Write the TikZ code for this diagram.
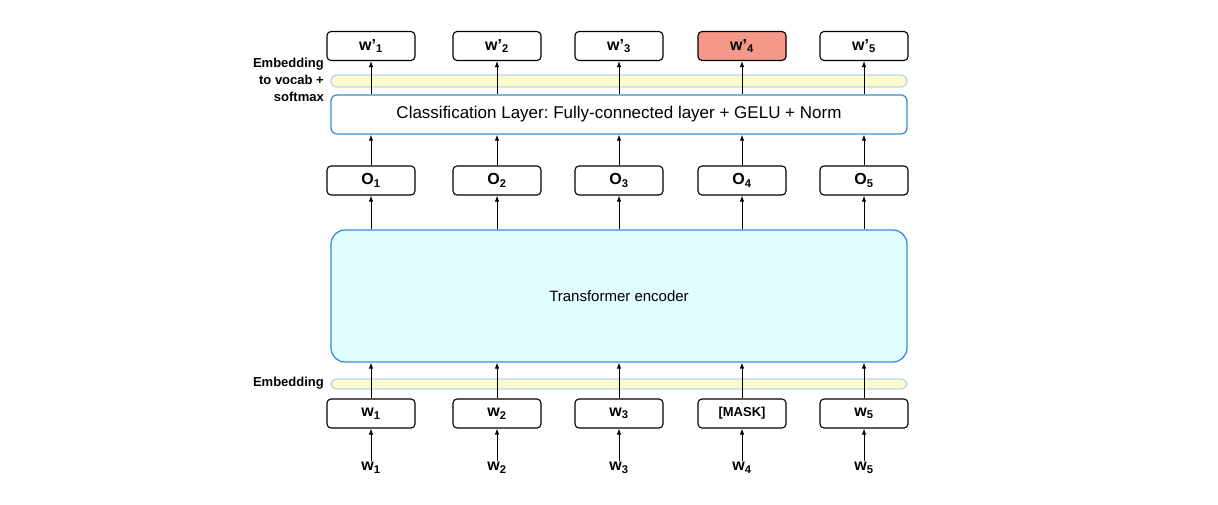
\documentclass[tikz,border=0pt]{standalone}
\usepackage{fontspec}
\setmainfont{Liberation Sans}
\usetikzlibrary{arrows.meta}
\frenchspacing
\definecolor{barfill}{HTML}{FBFBCB}
\definecolor{barline}{HTML}{B9D7EC}
\definecolor{encfill}{HTML}{E0FDFF}
\definecolor{encline}{HTML}{3C8ED3}
\definecolor{maskfill}{HTML}{F4998A}
\tikzset{
  tok/.style={draw=black, line width=1.1pt, rounded corners=4pt, minimum width=88pt, minimum height=29pt, inner sep=0pt, font=\fontsize{16}{18}\selectfont\bfseries},
  bar/.style={draw=barline, fill=barfill, line width=1.3pt, rounded corners=6pt, minimum width=576pt, inner sep=0pt},
  bluebox/.style={draw=encline, line width=1.3pt, minimum width=576pt, inner sep=0pt},
  inlab/.style={font=\fontsize{16}{18}\selectfont\bfseries, inner sep=1pt},
  sidelab/.style={font=\fontsize{13}{17}\selectfont\bfseries, align=right, anchor=east, inner sep=0pt},
  arr/.style={-{Latex[length=6pt,width=4.5pt]}, line width=0.9pt}
}
\newcommand{\wsub}[1]{w\textsubscript{#1}}
\begin{document}
\begin{tikzpicture}[x=1pt,y=-1pt]
\useasboundingbox (0,0) rectangle (1218,504);
% bars and big boxes
\node[bar, minimum height=12pt] (topbar) at (619,81) {};
\node[bar, minimum height=10pt] (botbar) at (619,384) {};
\node[bluebox, fill=white, rounded corners=6pt, minimum height=39pt, font=\fontsize{17}{19}\selectfont] (cls) at (619,114.5) {Classification Layer: Fully-connected layer + GELU + Norm};
\node[bluebox, fill=encfill, rounded corners=14pt, minimum height=132pt, font=\fontsize{15}{18}\selectfont] (enc) at (619,296) {Transformer encoder};
\node[sidelab] (lab1) at (324,80) {Embedding\\to vocab +\\softmax};
\node[sidelab] (lab2) at (324,383) {Embedding};
\foreach \i/\x in {1/371,2/497,3/619,4/742,5/864}{
  \node[inlab] (in\i) at (\x,468) {\wsub{\i}};
  \node[tok] (o\i) at (\x,180.5) {O\textsubscript{\i}};
}
\node[tok] (b1) at (371,413.5) {\wsub{1}};
\node[tok] (b2) at (497,413.5) {\wsub{2}};
\node[tok] (b3) at (619,413.5) {\wsub{3}};
\node[tok, font=\fontsize{13}{15}\selectfont\bfseries] (b4) at (742,413.5) {[MASK]};
\node[tok] (b5) at (864,413.5) {\wsub{5}};
\node[tok] (t1) at (371,46) {w’\textsubscript{1}};
\node[tok] (t2) at (497,46) {w’\textsubscript{2}};
\node[tok] (t3) at (619,46) {w’\textsubscript{3}};
\node[tok, fill=maskfill] (t4) at (742,46) {w’\textsubscript{4}};
\node[tok] (t5) at (864,46) {w’\textsubscript{5}};
\foreach \i in {1,...,5}{
  \draw[arr] (in\i.north) -- (b\i.south);
  \draw[arr] (b\i.north) -- (b\i.north |- enc.south);
  \draw[arr] (o\i.south |- enc.north) -- (o\i.south);
  \draw[arr] (o\i.north) -- (o\i.north |- cls.south);
  \draw[arr] (t\i.south |- cls.north) -- (t\i.south);
}
\end{tikzpicture}
\end{document}
